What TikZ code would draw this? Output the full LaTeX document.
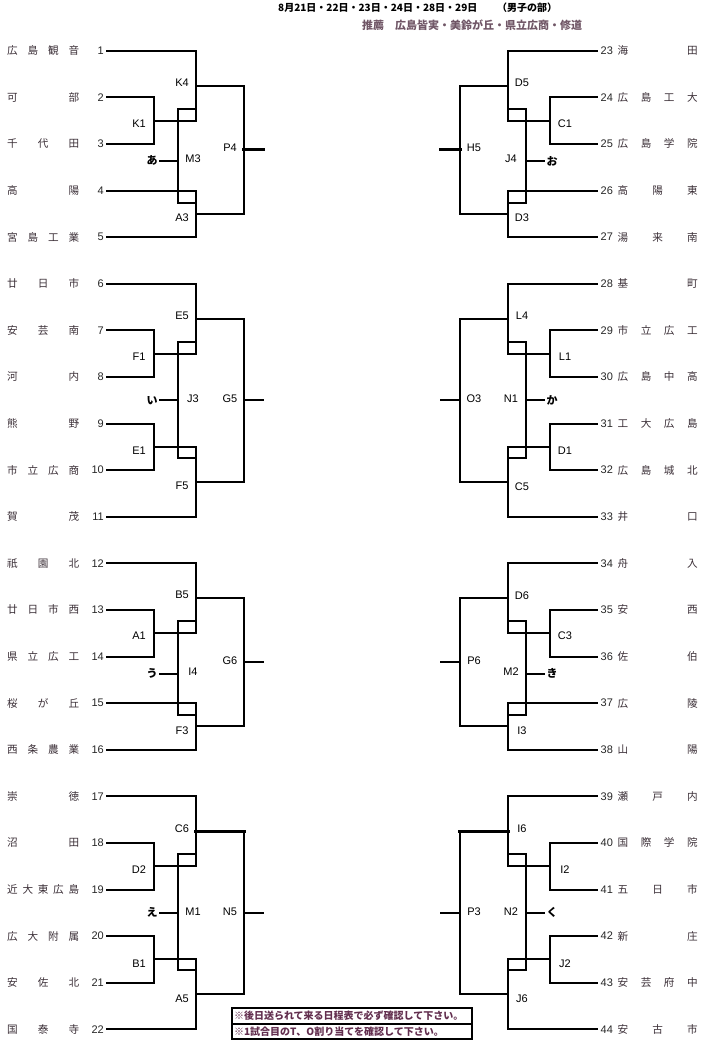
\documentclass[tikz,border=0pt]{standalone}
\usepackage{fontspec}
\setmainfont{Liberation Sans}
\newfontfamily\jp{Noto Sans CJK JP}
\usetikzlibrary{positioning}
\definecolor{namecol}{RGB}{58,46,54}
\definecolor{subcol}{RGB}{112,86,102}
\definecolor{notecol}{RGB}{98,46,78}
\makeatletter
\newcommand\spreadname[2]{\makebox[#1][s]{\let\spreadsep\relax\expandafter\@tfor\expandafter\spreadch\expandafter:\expandafter=#2\do{\spreadsep\spreadch\let\spreadsep\hfill}}}
\makeatother

\begin{document}
\begin{tikzpicture}[x=1pt, y=-1pt,
  bline/.style={line width=2pt, line cap=rect},
  heavy/.style={line width=3.4pt, line cap=rect},
  team/.style={inner sep=0pt, font=\jp\fontsize{10.6}{12}\selectfont, text=namecol},
  seed/.style={inner sep=0pt, font=\fontsize{11}{12}\selectfont, text=black!85},
  match/.style={inner sep=0pt, font=\fontsize{11}{12}\selectfont},
  kana/.style={inner sep=0pt, font=\jp\bfseries\fontsize{11}{12}\selectfont},
  head/.style={anchor=west, inner sep=0pt, font=\jp\bfseries\fontsize{10}{12}\selectfont},
  notebox/.style={draw, line width=2pt, outer sep=0pt, text width=236pt, minimum height=15.5pt, inner xsep=2pt, inner ysep=0pt, align=left, font=\jp\bfseries\fontsize{10}{12}\selectfont, text=notecol},
]
  \useasboundingbox (0,0) rectangle (707,1054);

  \node[head] (date) at (278,8) {8月21日・22日・23日・24日・28日・29日};
  \node[head] (boys) at (497,8) {（男子の部）};
  \node[head, text=subcol, font=\jp\bfseries\fontsize{11}{12}\selectfont] (rec) at (362,25) {推薦　広島皆実・美鈴が丘・県立広商・修道};

  \foreach \nm [count=\i] in {広島観音,可部,千代田,高陽,宮島工業,廿日市,安芸南,河内,熊野,市立広商,賀茂,祇園北,廿日市西,県立広工,桜が丘,西条農業,崇徳,沼田,近大東広島,広大附属,安佐北,国泰寺} {
    \pgfmathsetmacro\ty{50.7+46.6*(\i-1)}
    \node[team, anchor=west] (nm\i) at (7,\ty) {\spreadname{72pt}{\nm}};
    \node[seed, anchor=east] (no\i) at (104,\ty) {\i};
    \coordinate (t\i) at (107,\ty);
  }
  \foreach \nm [count=\i from 23] in {海田,広島工大,広島学院,高陽東,湯来南,基町,市立広工,広島中高,工大広島,広島城北,井口,舟入,安西,佐伯,広陵,山陽,瀬戸内,国際学院,五日市,新庄,安芸府中,安古市} {
    \pgfmathsetmacro\ty{50.7+46.6*(\i-23)}
    \node[team, anchor=west] (nm\i) at (617.5,\ty) {\spreadname{80pt}{\nm}};
    \node[seed, anchor=west] (no\i) at (600.5,\ty) {\i};
    \coordinate (t\i) at (597,\ty);
  }

  \foreach \sh/\sx/\rw/\tn/\fa/\ma/\mb/\fn/\bk/\hk/\ws in {
    0/1/1/1/K1/K4/A3/P4/M3/あ/heavy,
    0/1/12/12/A1/B5/F3/G6/I4/う/bline,
    704/-1/1/23/C1/D5/D3/H5/J4/お/heavy,
    704/-1/12/34/C3/D6/I3/P6/M2/き/bline} {
    \begin{scope}[shift={(\sh,0)}, xscale=\sx, bline]
      \pgfmathsetmacro\ya{50.7+46.6*(\rw-1)}
      \pgfmathsetmacro\fay{\ya+1.5*46.6}
      \pgfmathsetmacro\may{\ya+0.75*46.6}
      \pgfmathsetmacro\mby{\ya+3.5*46.6}
      \pgfmathsetmacro\fny{(\may+\mby)/2}
      \pgfmathsetmacro\brt{\fay-12}
      \pgfmathsetmacro\brb{\ya+3*46.6+12}
      \pgfmathsetmacro\sty{\ya+2*46.6+17}
      \pgfmathtruncatemacro\tB{\tn+1}
      \pgfmathtruncatemacro\tC{\tn+2}
      \pgfmathtruncatemacro\tD{\tn+3}
      \pgfmathtruncatemacro\tE{\tn+4}
      \coordinate (\fa) at (154,\fay);
      \coordinate (\ma) at (196,\may);
      \coordinate (\mb) at (196,\mby);
      \coordinate (\fn) at (244,\fny);
      \coordinate (\fn out) at (263,\fny);
      \coordinate (\bk) at (178,\sty);
      \coordinate (\bk in) at (160,\sty);
      \coordinate (\bk t) at (196,\brt);
      \coordinate (\bk b) at (196,\brb);
      \draw (t\tn) -| (\ma |- \fa) -- (\fa);
      \draw (t\tB) -| (\fa) |- (t\tC);
      \draw (t\tD) -| (\mb) |- (t\tE);
      \draw (\ma) -| (\fn) |- (\mb);
      \draw[\ws] (\fn) -- (\fn out);
      \draw (\bk t) -| (\bk) |- (\bk b);
      \draw (\bk) -- (\bk in);
      \node[match] (l\fa) at (139,{\fay+3}) {\fa};
      \node[match] (l\ma) at (182,{\may-3}) {\ma};
      \node[match] (l\mb) at (182,{\mby+4}) {\mb};
      \node[match] (l\fn) at (230,{\fny-2}) {\fn};
      \node[match] (l\bk) at (193,{\sty-2}) {\bk};
      \node[kana] (k\bk) at (152,\sty) {\hk};
    \end{scope}
  }

  \foreach \sh/\sx/\rw/\tn/\fa/\fb/\ma/\mb/\fn/\bk/\hk/\ws in {
    0/1/6/6/F1/E1/E5/F5/G5/J3/い/bline,
    0/1/17/17/D2/B1/C6/A5/N5/M1/え/heavy,
    704/-1/6/28/L1/D1/L4/C5/O3/N1/か/bline,
    704/-1/17/39/I2/J2/I6/J6/P3/N2/く/heavy} {
    \begin{scope}[shift={(\sh,0)}, xscale=\sx, bline]
      \pgfmathsetmacro\ya{50.7+46.6*(\rw-1)}
      \pgfmathsetmacro\fay{\ya+1.5*46.6}
      \pgfmathsetmacro\fby{\ya+3.5*46.6}
      \pgfmathsetmacro\may{\ya+0.75*46.6}
      \pgfmathsetmacro\mby{\ya+4.25*46.6}
      \pgfmathsetmacro\fny{(\may+\mby)/2}
      \pgfmathsetmacro\brt{\fay-12}
      \pgfmathsetmacro\brb{\fby+11}
      \pgfmathsetmacro\sty{\ya+2.5*46.6}
      \pgfmathtruncatemacro\tB{\tn+1}
      \pgfmathtruncatemacro\tC{\tn+2}
      \pgfmathtruncatemacro\tD{\tn+3}
      \pgfmathtruncatemacro\tE{\tn+4}
      \pgfmathtruncatemacro\tF{\tn+5}
      \coordinate (\fa) at (154,\fay);
      \coordinate (\fb) at (154,\fby);
      \coordinate (\ma) at (196,\may);
      \coordinate (\mb) at (196,\mby);
      \coordinate (\fn) at (244,\fny);
      \coordinate (\fn out) at (263,\fny);
      \coordinate (\bk) at (178,\sty);
      \coordinate (\bk in) at (160,\sty);
      \coordinate (\bk t) at (196,\brt);
      \coordinate (\bk b) at (196,\brb);
      \draw (t\tn) -| (\ma |- \fa) -- (\fa);
      \draw (t\tB) -| (\fa) |- (t\tC);
      \draw (t\tD) -| (\fb) |- (t\tE);
      \draw (\fb) -- (\mb |- \fb) |- (t\tF);
      \draw[\ws] (\ma) -- (\fn |- \ma);
      \draw (\fn |- \ma) |- (\mb);
      \draw (\fn) -- (\fn out);
      \draw (\bk t) -| (\bk) |- (\bk b);
      \draw (\bk) -- (\bk in);
      \node[match] (l\fa) at (139,{\fay+3}) {\fa};
      \node[match] (l\fb) at (139,{\fby+4}) {\fb};
      \node[match] (l\ma) at (182,{\may-3}) {\ma};
      \node[match] (l\mb) at (182,{\mby+4.5}) {\mb};
      \node[match] (l\fn) at (230,{\fny-1.5}) {\fn};
      \node[match] (l\bk) at (193,{\sty-1.5}) {\bk};
      \node[kana] (k\bk) at (152,\sty) {\hk};
    \end{scope}
  }

  \node[notebox, anchor=north west] (note1) at (232,1008) {※後日送られて来る日程表で必ず確認して下さい。};
  \node[notebox, below=0pt of note1] (note2) {※1試合目のT、O割り当てを確認して下さい。};
\end{tikzpicture}
\end{document}
